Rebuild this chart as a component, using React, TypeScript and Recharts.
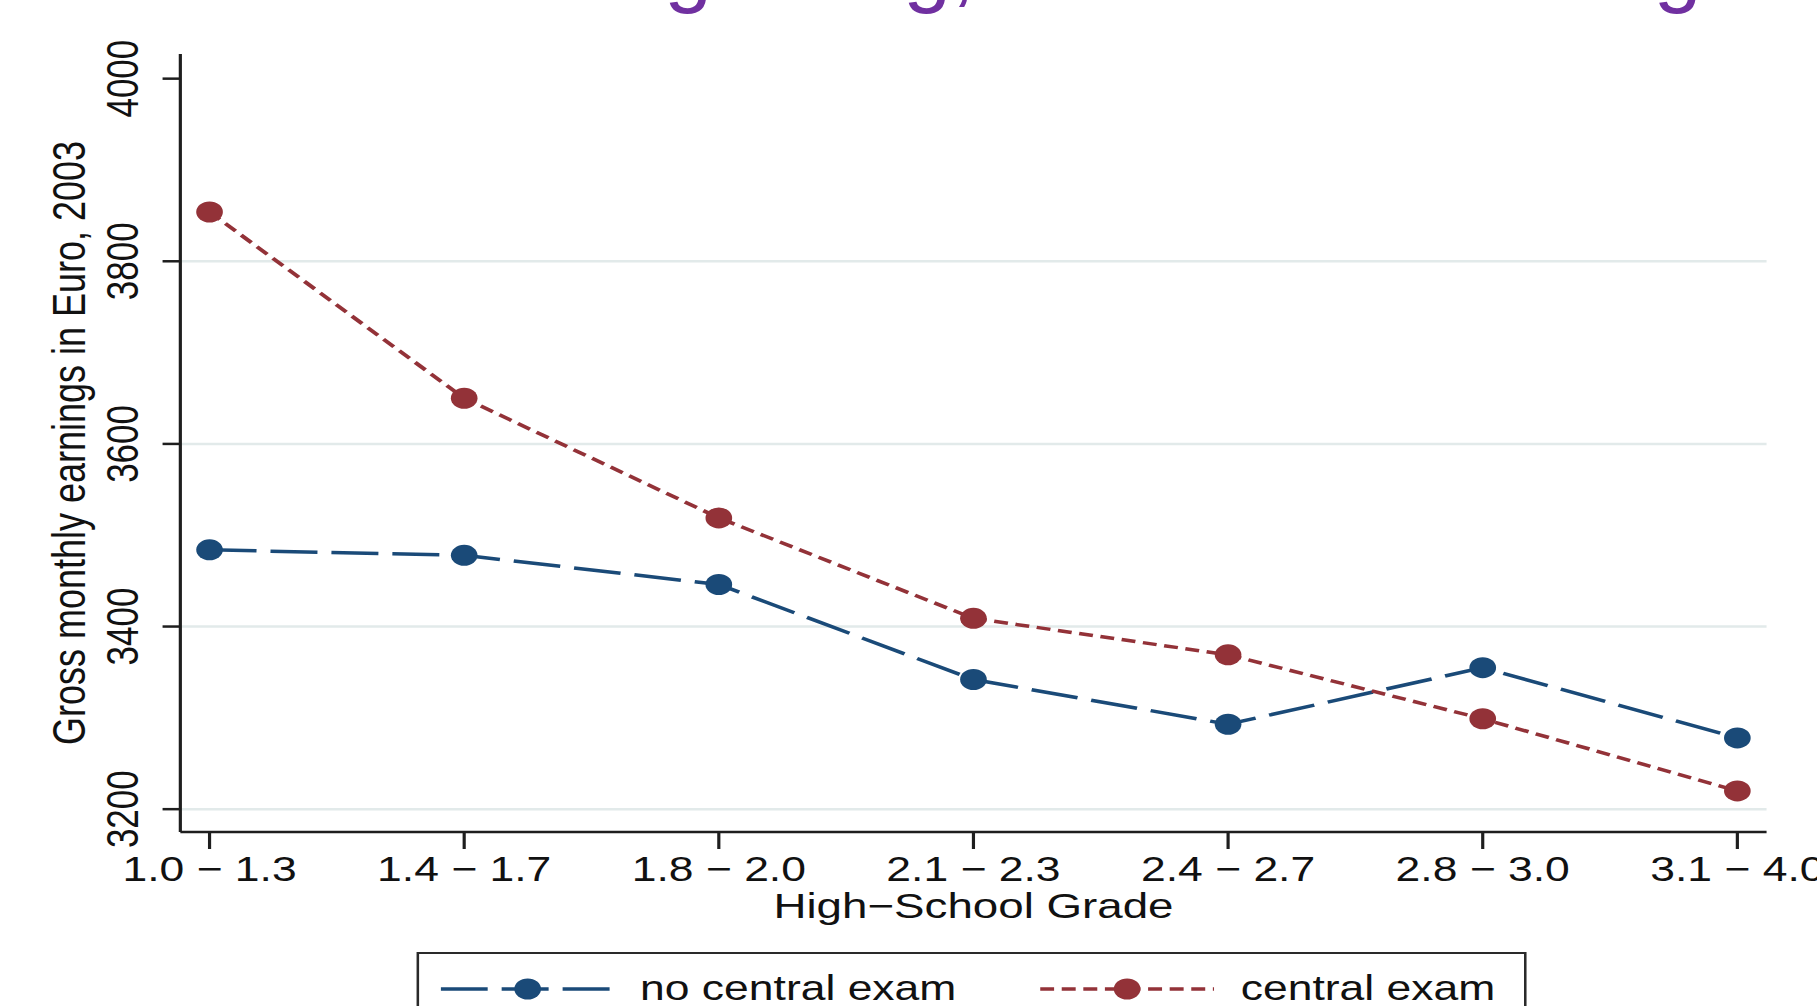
import type { ReactElement } from 'react'
import { LineChart, Line, XAxis, YAxis, ReferenceLine, Legend, Label } from 'recharts'

// values (Gross monthly earnings in Euro, 2003)
const categories = ['1.0 − 1.3', '1.4 − 1.7', '1.8 − 2.0', '2.1 − 2.3', '2.4 − 2.7', '2.8 − 3.0', '3.1 − 4.0']
const noCentralExam = [3484, 3478, 3446, 3342, 3293, 3355, 3278]
const centralExam = [3854, 3650, 3519, 3409, 3369, 3299, 3220]
const yTicks = [3200, 3400, 3600, 3800, 4000]
const gridValues = [3200, 3400, 3600, 3800]

const seriesNames = ['no central exam', 'central exam']
const seriesKeys = ['noCentral', 'central']
const seriesColors = ['#1a4a78', '#933238']
const seriesDash = ['37 11', '11 6']

const data = categories.map((grade, i) => ({
  grade,
  noCentral: noCentralExam[i],
  central: centralExam[i],
}))

// the source picture is stretched sideways, so the chart is drawn narrow and scaled
const STRETCH = 1.27
const PAGE_W = 1817
const PAGE_H = 1006
const CHART_W = Math.round(PAGE_W / STRETCH)

const FONT = '"Liberation Sans", Arial, sans-serif'
const AXIS = '#1e1e1e'
const GRID = '#e2eaea'

function YTick(props: any): ReactElement {
  const { x, y, payload } = props
  return (
    <text
      x={x}
      y={y}
      transform={`rotate(-90 ${x} ${y})`}
      textAnchor="middle"
      fill="#111"
      fontSize={35}
      fontFamily={FONT}
    >
      {payload.value}
    </text>
  )
}

function YTitle(props: any): ReactElement {
  const { viewBox } = props
  const x = viewBox.x + 67
  const y = viewBox.y + viewBox.height / 2
  return (
    <text x={x} y={y} transform={`rotate(-90 ${x} ${y})`} textAnchor="middle" fill="#111" fontSize={36} fontFamily={FONT}>
      Gross monthly earnings in Euro, 2003
    </text>
  )
}

function XTitle(props: any): ReactElement {
  const { viewBox } = props
  return (
    <text x={viewBox.x + viewBox.width / 2} y={viewBox.y + 86} textAnchor="middle" fill="#111" fontSize={36} fontFamily={FONT}>
      High−School Grade
    </text>
  )
}

function LegendSample({ color, dash }: { color: string; dash: string }): ReactElement {
  return (
    <svg width={137} height={30} style={{ display: 'block' }}>
      <line x1={0} y1={15} x2={137} y2={15} stroke={color} strokeWidth={3.5} strokeDasharray={dash} />
      <circle cx={68.5} cy={15} r={10.5} fill={color} />
    </svg>
  )
}

function LegendBox(): ReactElement {
  const textOffsets = [174, 647]
  const sampleOffsets = [17, 489]
  return (
    <div
      style={{
        position: 'relative',
        width: 874,
        height: 90,
        boxSizing: 'border-box',
        border: '2.5px solid #2a2a2a',
        background: '#fff',
        fontFamily: FONT,
        fontSize: 35,
        color: '#111',
      }}
    >
      {seriesNames.map((name, i) => (
        <div key={name}>
          <div style={{ position: 'absolute', left: sampleOffsets[i], top: 20 }}>
            <LegendSample color={seriesColors[i]} dash={seriesDash[i]} />
          </div>
          <div style={{ position: 'absolute', left: textOffsets[i], top: 14, lineHeight: '40px', whiteSpace: 'nowrap' }}>
            {name}
          </div>
        </div>
      ))}
    </div>
  )
}

export default function App(): ReactElement {
  return (
    <div
      style={{
        position: 'absolute',
        left: 0,
        top: 0,
        width: PAGE_W,
        height: PAGE_H,
        overflow: 'hidden',
        background: '#fff',
      }}
    >
      <div
        style={{
          position: 'absolute',
          left: 368,
          top: -77,
          fontFamily: FONT,
          fontSize: 86,
          lineHeight: 1,
          color: '#7030a0',
          whiteSpace: 'nowrap',
        }}
      >
        Stricter grading, but similar earnings
      </div>
      <div
        style={{
          position: 'absolute',
          left: 0,
          top: 0,
          width: CHART_W,
          height: PAGE_H,
          transform: `scaleX(${STRETCH})`,
          transformOrigin: '0 0',
        }}
      >
        <LineChart width={CHART_W} height={PAGE_H} data={data} margin={{ top: 54, right: CHART_W - 1391, bottom: 74, left: 0 }}>
          {gridValues.map((v) => (
            <ReferenceLine key={v} y={v} stroke={GRID} strokeWidth={2.5} />
          ))}
          <XAxis
            dataKey="grade"
            height={100}
            padding={{ left: 23, right: 23 }}
            axisLine={{ stroke: AXIS, strokeWidth: 2.5 }}
            tickLine={{ stroke: AXIS, strokeWidth: 2.5 }}
            tickSize={17}
            tickMargin={7}
            interval={0}
            tick={{ fill: '#111', fontSize: 35, fontFamily: FONT }}
          >
            <Label content={XTitle} />
          </XAxis>
          <YAxis
            type="number"
            width={142}
            domain={[3175, 4027]}
            ticks={yTicks}
            allowDataOverflow
            axisLine={{ stroke: AXIS, strokeWidth: 2.5 }}
            tickLine={{ stroke: AXIS, strokeWidth: 2.5 }}
            tickSize={14}
            tickMargin={19}
            tick={YTick}
          >
            <Label content={YTitle} />
          </YAxis>
          {seriesKeys.map((key, i) => (
            <Line
              key={key}
              type="linear"
              dataKey={key}
              name={seriesNames[i]}
              stroke={seriesColors[i]}
              strokeWidth={3.5}
              strokeDasharray={seriesDash[i]}
              dot={{ r: 10.5, fill: seriesColors[i], stroke: 'none' }}
              activeDot={false}
              isAnimationActive={false}
            />
          ))}
          <Legend
            verticalAlign="middle"
            align="center"
            layout="horizontal"
            content={() => <LegendBox />}
            wrapperStyle={{ top: 952, left: 328, width: 874, height: 90 }}
          />
        </LineChart>
      </div>
    </div>
  )
}
